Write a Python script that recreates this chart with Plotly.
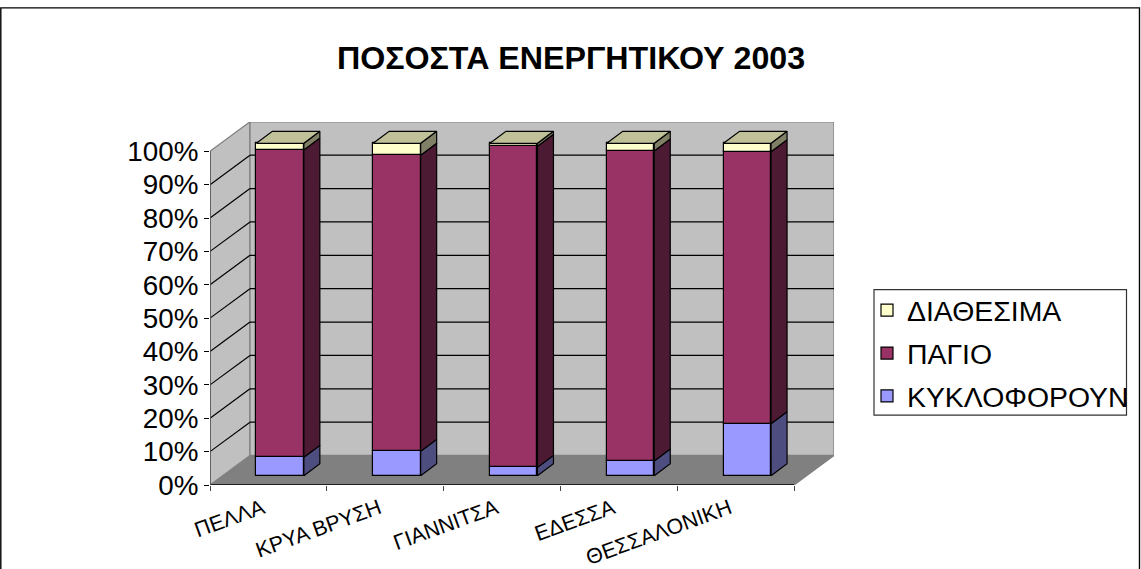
import numpy as np
import plotly.graph_objects as go

categories = ["ΠΕΛΛΑ", "ΚΡΥΑ ΒΡΥΣΗ", "ΓΙΑΝΝΙΤΣΑ", "ΕΔΕΣΣΑ", "ΘΕΣΣΑΛΟΝΙΚΗ"]
kykloforoun = [5.5, 7.3, 2.5, 4.4, 15.6]
pagio = [92.1, 88.7, 96.2, 92.9, 81.5]
diathesima = [2.0, 3.6, 0.9, 2.3, 2.5]
y_ticks = list(range(0, 101, 10))
y_labels = [f"{v}%" for v in y_ticks]

W, H = 1141, 569
PX_L, PX_R, PX_T, PX_B = 210, 834, 121.7, 485
CAT_PX = 116.8
PCT_PX = 3.34
XMAX = (PX_R - PX_L) / CAT_PX
YMAX = (PX_B - PX_T) / PCT_PX
WALL_DX, WALL_DY = 40 / CAT_PX, 29.5 / PCT_PX
BAR_DX, BAR_DY = 16 / CAT_PX, 12 / PCT_PX
BAR_X0, BAR_Y0 = 11.7 / CAT_PX, 9.3 / PCT_PX
BAR_W = 47.5 / CAT_PX
LABEL_SHIFT = 6 / CAT_PX

series = [
    ("ΚΥΚΛΟΦΟΡΟΥΝ", kykloforoun, "#9999FF", "#4D4D80", 3),
    ("ΠΑΓΙΟ", pagio, "#993366", "#4D1A33", 2),
    ("ΔΙΑΘΕΣΙΜΑ", diathesima, "#FFFFCC", "#808066", 1),
]
n = len(categories)
centers = np.arange(n) + 0.5
bar_x = centers + BAR_X0
right = bar_x + BAR_W / 2
left = bar_x - BAR_W / 2

fig = go.Figure()
shapes = []
GREY = "#808080"


def poly(xs, ys, fill, line=GREY, w=1.3):
    path = "M" + " L".join(f"{a},{b}" for a, b in zip(xs, ys)) + " Z"
    shapes.append(dict(type="path", path=path, xref="x", yref="y", fillcolor=fill,
                       line=dict(color=line, width=w), layer="below"))


poly([0, 5, 5 + WALL_DX, WALL_DX], [0, 0, WALL_DY, WALL_DY], "#808080")
poly([0, WALL_DX, WALL_DX, 0], [0, WALL_DY, 100 + WALL_DY, 100], "#C0C0C0")
poly([WALL_DX, 5 + WALL_DX, 5 + WALL_DX, WALL_DX], [WALL_DY, WALL_DY, 100 + WALL_DY, 100 + WALL_DY], "#C0C0C0")
for v in y_ticks[1:-1]:
    shapes.append(dict(type="line", xref="x", yref="y", x0=0, y0=v, x1=WALL_DX, y1=v + WALL_DY,
                       line=dict(color="black", width=1.2), layer="below"))
    shapes.append(dict(type="line", xref="x", yref="y", x0=WALL_DX, y0=v + WALL_DY, x1=5 + WALL_DX, y1=v + WALL_DY,
                       line=dict(color="black", width=1.2), layer="below"))

bottom = np.full(n, BAR_Y0)
for i, (name, vals, col, dark, rank) in enumerate(series):
    vals = np.array(vals, dtype=float)
    fig.add_trace(go.Bar(x=bar_x, y=vals, base=bottom, width=BAR_W, name=name, legendgroup=name, legendrank=rank,
                         marker=dict(color=col, line=dict(color="black", width=1.2)), hoverinfo="skip"))
    sx, sy = [], []
    for k in range(n):
        sx += [right[k], right[k], right[k] + BAR_DX, right[k] + BAR_DX, right[k], None]
        sy += [bottom[k], bottom[k] + vals[k], bottom[k] + vals[k] + BAR_DY, bottom[k] + BAR_DY, bottom[k], None]
    fig.add_trace(go.Scatter(x=sx, y=sy, mode="lines", fill="toself", fillcolor=dark, showlegend=False,
                             line=dict(color="black", width=1.2), hoverinfo="skip"))
    bottom = bottom + vals

tx, ty = [], []
for k in range(n):
    tx += [left[k], right[k], right[k] + BAR_DX, left[k] + BAR_DX, left[k], None]
    ty += [bottom[k], bottom[k], bottom[k] + BAR_DY, bottom[k] + BAR_DY, bottom[k], None]
fig.add_trace(go.Scatter(x=tx, y=ty, mode="lines", fill="toself", fillcolor="#C0C099", showlegend=False,
                         line=dict(color="black", width=1.2), hoverinfo="skip"))

fig.add_trace(go.Scatter(x=[0, 5], y=[0, 0], mode="lines", line=dict(color="black", width=1.6),
                         showlegend=False, cliponaxis=False, hoverinfo="skip"))
fig.add_trace(go.Scatter(x=[0, 0], y=[0, 100], mode="lines", line=dict(color="#555555", width=1.6),
                         showlegend=False, cliponaxis=False, hoverinfo="skip"))

# outer frame and legend frame
shapes.append(dict(type="rect", xref="paper", yref="paper",
                   x0=(0.8 - PX_L) / (PX_R - PX_L), x1=(1139.5 - PX_L) / (PX_R - PX_L),
                   y0=-0.3, y1=(PX_B - 7.5) / (PX_B - PX_T),
                   line=dict(color="black", width=1.4), layer="above"))
shapes.append(dict(type="rect", xref="paper", yref="paper",
                   x0=(874 - PX_L) / (PX_R - PX_L), x1=(1126.5 - PX_L) / (PX_R - PX_L),
                   y0=(PX_B - 415) / (PX_B - PX_T), y1=(PX_B - 289.5) / (PX_B - PX_T),
                   line=dict(color="#333333", width=1.2), layer="above"))

FONT = "Liberation Sans, Arial, sans-serif"
fig.update_layout(
    width=W, height=H, paper_bgcolor="white", plot_bgcolor="rgba(0,0,0,0)",
    margin=dict(l=PX_L, r=W - PX_R, t=PX_T, b=H - PX_B, pad=0, autoexpand=False),
    barmode="overlay", bargap=0,
    font=dict(family=FONT, color="black"),
    title=dict(text="<b>ΠΟΣΟΣΤΑ ΕΝΕΡΓΗΤΙΚΟΥ 2003</b>", x=571 / W, xanchor="center",
               y=1 - 58 / H, yanchor="middle", font=dict(size=32.2, family=FONT, color="black")),
    xaxis=dict(range=[0, XMAX], tickmode="array", tickvals=list(centers - LABEL_SHIFT), ticktext=categories,
               tickangle=-20, ticks="", showgrid=False, zeroline=False, showline=False,
               tickfont=dict(size=21.4), ticklabelstandoff=6,
               minor=dict(tickmode="array", tickvals=list(range(n + 1)), ticks="outside", ticklen=5,
                          tickcolor="#444444", tickwidth=1.3, showgrid=False)),
    yaxis=dict(range=[0, YMAX], tickmode="array", tickvals=y_ticks, ticktext=y_labels,
               ticks="outside", ticklen=5, tickcolor="black", tickwidth=1.3,
               showgrid=False, zeroline=False, showline=False, tickfont=dict(size=27.8)),
    legend=dict(x=(867 - PX_L) / (PX_R - PX_L), xanchor="left",
                y=(PX_B - 285) / (PX_B - PX_T), yanchor="top",
                traceorder="grouped", tracegroupgap=3,
                bgcolor="rgba(0,0,0,0)", borderwidth=0, font=dict(size=28.4)),
    shapes=shapes,
)
fig.write_html("out.html", config={"displayModeBar": False},
               post_script="document.body.style.margin='0';document.body.style.overflow='hidden';")
